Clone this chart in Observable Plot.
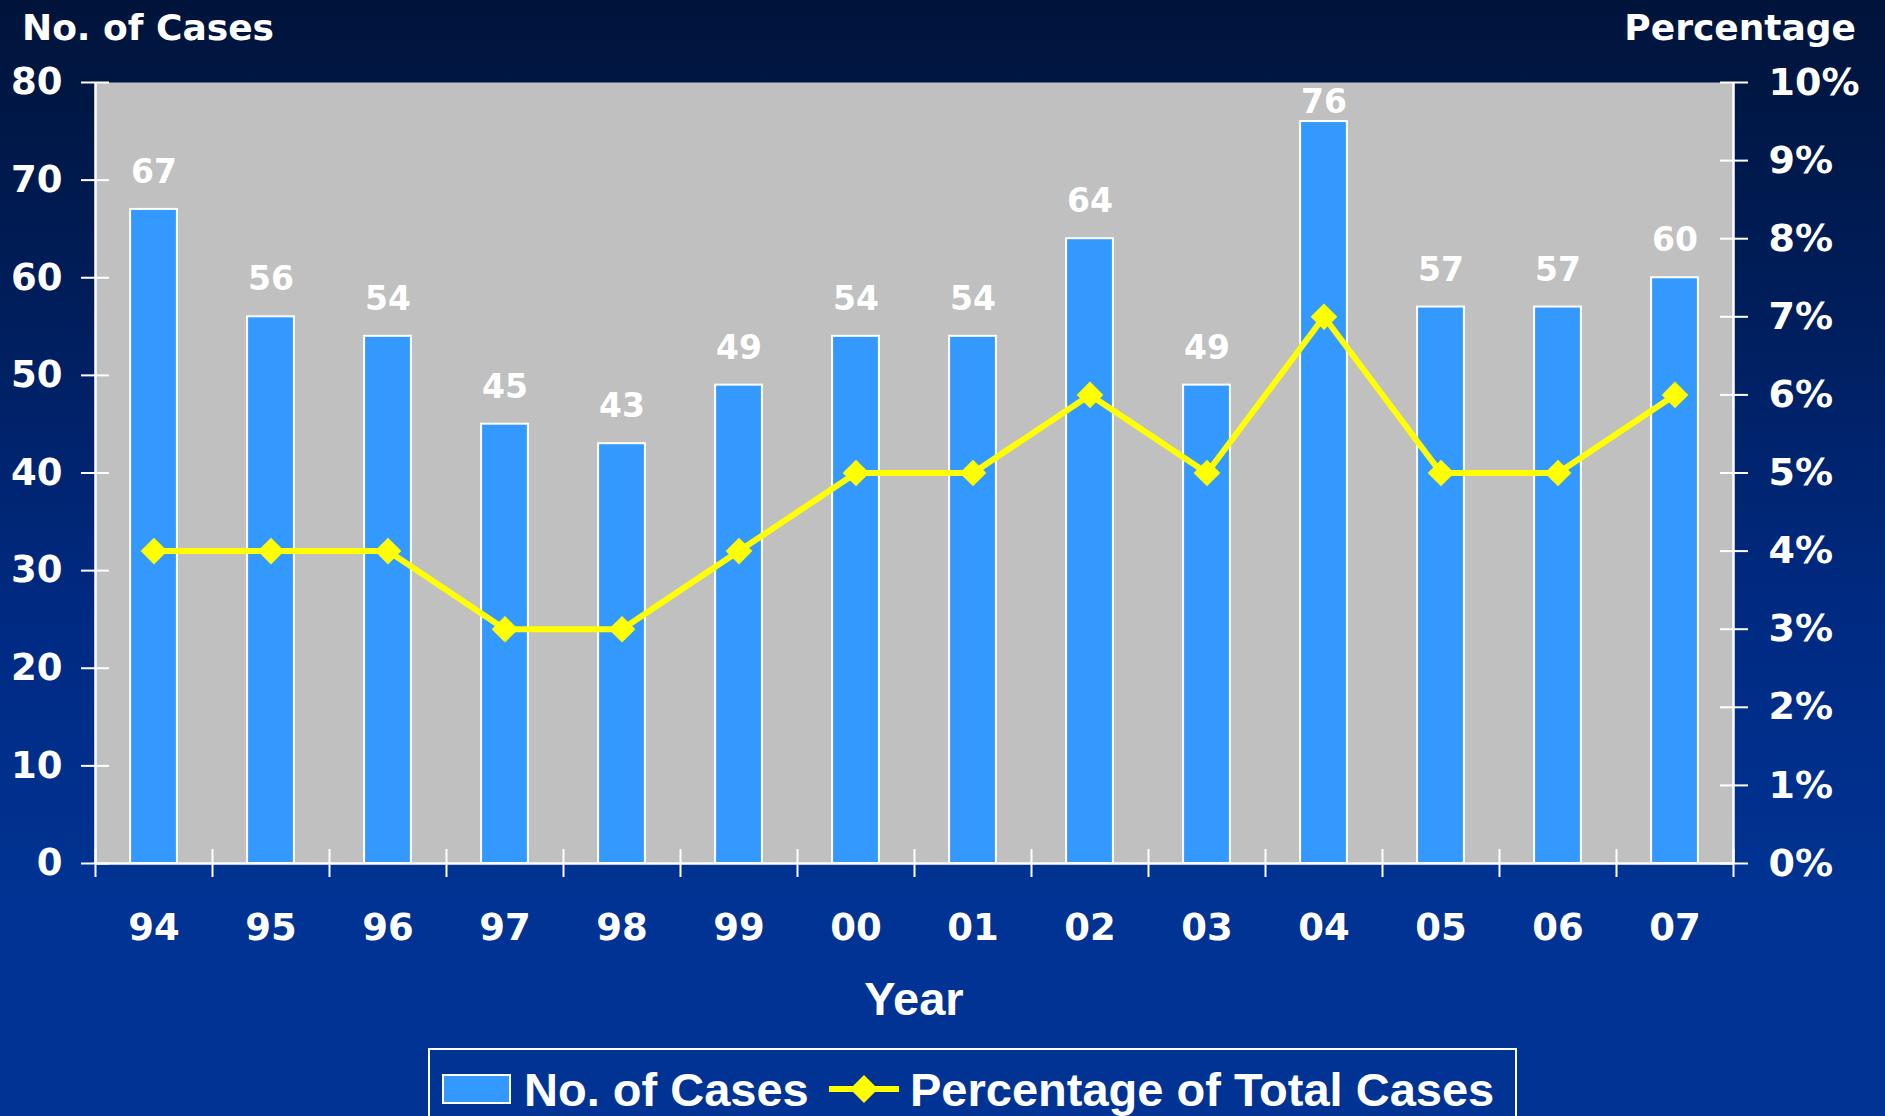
<!DOCTYPE html>
<html>
<head>
<meta charset="utf-8">
<script src="https://cdn.jsdelivr.net/npm/d3@7"></script>
<script src="https://cdn.jsdelivr.net/npm/@observablehq/plot@0.6"></script>
<style>
  html, body { margin: 0; padding: 0; }
  body {
    width: 1885px; height: 1116px; overflow: hidden;
    background: linear-gradient(to bottom, #00143a 0%, #001e5c 28%, #002a82 55%, #003393 80%, #003393 100%);
    font-family: "DejaVu Sans", sans-serif;
    color: white;
  }
  #wrap { position: relative; width: 1885px; height: 1116px; }
  #chart { position: absolute; left: 0; top: 0; }
  .title { position: absolute; font-weight: bold; font-size: 36px; line-height: 1; white-space: nowrap; }
  #ytitle { left: 22px; top: 10px; }
  #ptitle { right: 29px; top: 10px; }
  #xtitle { position: absolute; left: 914px; top: 975px; transform: translateX(-50%); font-family: "Liberation Sans", Arial, sans-serif; font-weight: bold; font-size: 47px; line-height: 1; }
  #legend {
    position: absolute; left: 428px; top: 1048px; width: 1089px; height: 90px;
    border: 2px solid white; box-sizing: border-box;
    font-family: "Liberation Sans", Arial, sans-serif; font-weight: bold; font-size: 47px;
  }
  #legend .item { position: absolute; top: 14px; display: flex; align-items: center; height: 50px; white-space: nowrap; }
  #legend .sw { width: 69px; height: 30px; background: #3399ff; border: 2px solid white; box-sizing: border-box; margin-right: 13px; }
  #legend svg { margin-right: 9px; }
</style>
</head>
<body>
<div id="wrap">
  <div id="chart"></div>
  <div class="title" id="ytitle">No. of Cases</div>
  <div class="title" id="ptitle">Percentage</div>
  <div id="xtitle">Year</div>
  <div id="legend">
    <div class="item" style="left:12px"><div class="sw"></div><span>No. of Cases</span></div>
    <div class="item" style="left:397px">
      <svg width="74" height="32" viewBox="0 0 74 32"><line x1="2" y1="16" x2="72" y2="16" stroke="#ffff00" stroke-width="6"/><path d="M37 2 L51 16 L37 30 L23 16 Z" fill="#ffff00"/></svg>
      <span>Percentage of Total Cases</span></div>
  </div>
</div>
<script>
const years = ["94","95","96","97","98","99","00","01","02","03","04","05","06","07"];
const cases = [67, 56, 54, 45, 43, 49, 54, 54, 64, 49, 76, 57, 57, 60];
const percentages = [4, 4, 4, 3, 3, 4, 5, 5, 6, 5, 7, 5, 5, 6];
const caseTicks = [0, 10, 20, 30, 40, 50, 60, 70, 80];
const pctTicks = [0, 1, 2, 3, 4, 5, 6, 7, 8, 9, 10];

const caseMax = 80, pctMax = 10;
const k = caseMax / pctMax; // maps percent onto the case scale for the right axis
const labelGap = 3.8;       // value-label offset above the bar, in case units

const rows = years.map((year, i) => ({i, year, cases: cases[i], pct: percentages[i]}));

const white = "white";
const font = "'DejaVu Sans', sans-serif";
const chart = Plot.plot({
  width: 1885,
  height: 1116,
  marginLeft: 95,
  marginRight: 152,
  marginTop: 82,
  marginBottom: 253,
  x: {domain: [0, years.length], axis: null},
  y: {domain: [0, caseMax], axis: null},
  style: {background: "transparent", color: "white", fontFamily: font, fontWeight: "bold", overflow: "visible"},
  marks: [
    Plot.frame({fill: "#c0c0c0", stroke: null}),
    Plot.rectY(rows, {x1: d => d.i + 0.3, x2: d => d.i + 0.7, y: "cases", fill: "#3399ff", stroke: white, strokeWidth: 2}),
    Plot.line(rows, {x: d => d.i + 0.5, y: d => d.pct * k, stroke: "#ffff00", strokeWidth: 6}),
    Plot.dot(rows, {x: d => d.i + 0.5, y: d => d.pct * k, symbol: "diamond2", r: 12, fill: "#ffff00", stroke: null}),
    Plot.text(rows, {x: d => d.i + 0.5, y: d => Math.min(d.cases + labelGap, caseMax - 2), text: d => String(d.cases), lineAnchor: "middle", fill: white, fontSize: 33, fontWeight: "bold"}),
    // axis lines
    Plot.ruleX([0, years.length], {y1: 0, y2: caseMax, stroke: white, strokeWidth: 2.5}),
    Plot.ruleY([0], {x1: 0, x2: years.length, stroke: white, strokeWidth: 2.5}),
    // crossing ticks
    Plot.axisY({anchor: "left", label: null, ticks: caseTicks, tickSize: 28, dx: 14, tickFormat: () => "", stroke: white, strokeWidth: 2}),
    Plot.axisY({anchor: "right", label: null, ticks: pctTicks.map(p => p * k), tickSize: 28, dx: -14, tickFormat: () => "", stroke: white, strokeWidth: 2}),
    Plot.axisX({anchor: "bottom", label: null, ticks: d3.range(0, years.length + 1), tickSize: 28, dy: -14, tickFormat: () => "", stroke: white, strokeWidth: 2}),
    // labels
    Plot.axisY({anchor: "left", label: null, ticks: caseTicks, tickSize: 0, tickPadding: 33, fontSize: 37, fill: white}),
    Plot.axisY({anchor: "right", label: null, ticks: pctTicks.map(p => p * k), tickSize: 0, tickPadding: 35, fontSize: 38, fill: white, tickFormat: d => `${Math.round(d / k)}%`}),
    Plot.axisX({anchor: "bottom", label: null, ticks: years.map((_, i) => i + 0.5), tickSize: 0, tickPadding: 50, fontSize: 37, fill: white, tickFormat: d => years[Math.floor(d)]})
  ]
});
document.getElementById("chart").appendChild(chart);
</script>
</body>
</html>
